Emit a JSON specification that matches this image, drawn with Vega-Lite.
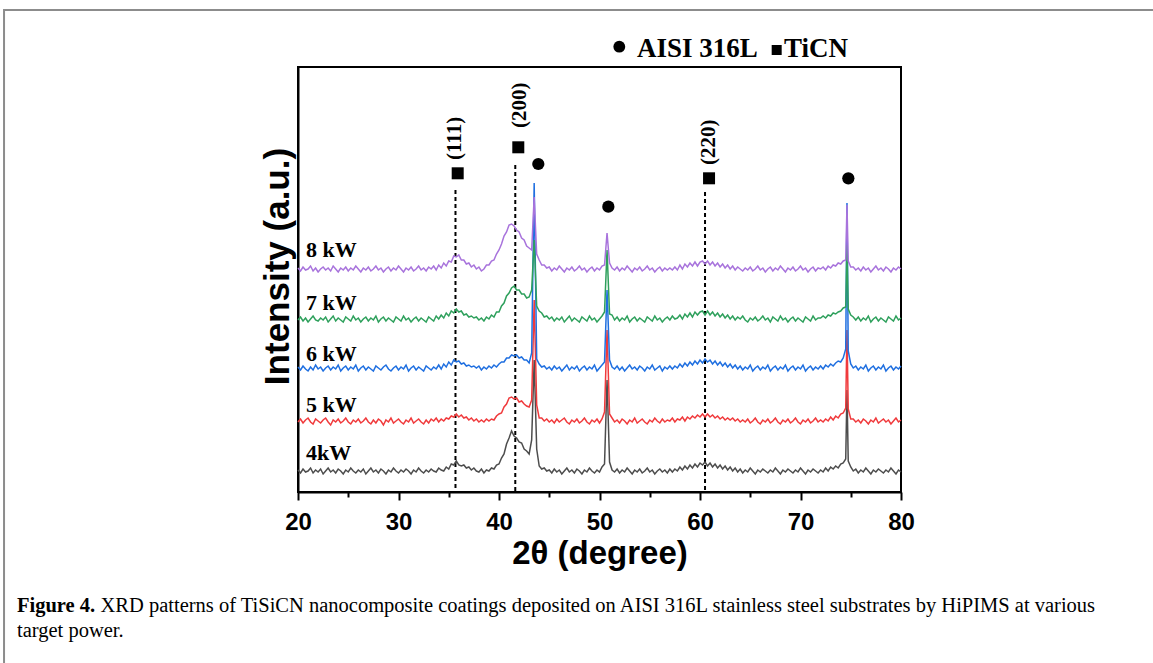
{
"$schema":"https://vega.github.io/schema/vega-lite/v6.json",
"width":603,"height":425,
"autosize":{"type":"none"},
"padding":{"left":298,"top":67,"right":252,"bottom":171},
"background":"white",
"config":{"view":{"stroke":"black","strokeWidth":2},"axis":{"domainColor":"black","domainWidth":2,"grid":false}},
"encoding":{
 "x":{"field":"x","type":"quantitative","scale":{"domain":[20,80],"nice":false,"zero":false},
  "axis":{"values":[20,25,30,35,40,45,50,55,60,65,70,75,80],"labelExpr":"datum.value % 10 === 0 ? datum.label : ''",
   "tickSize":{"condition":{"test":"datum.value % 10 === 0","value":8},"value":5},"tickWidth":2,"tickColor":"black",
   "labelFont":"Liberation Sans","labelFontSize":24,"labelFontWeight":"bold","labelColor":"black","labelPadding":10,"labelOverlap":false,"labelFlush":false,
   "title":"2θ (degree)","titleFont":"Liberation Sans","titleFontSize":33,"titleFontWeight":"bold","titleColor":"black","titlePadding":3}},
 "y":{"field":"y","type":"quantitative","scale":{"domain":[0,425],"nice":false,"zero":false},
  "axis":{"title":"Intensity (a.u.)","labels":false,"ticks":false,"titleFont":"Liberation Sans","titleFontSize":35,"titleFontWeight":"bold","titleColor":"black","titlePadding":3,"titleY":199}}
},
"layer":[
{"data":{"values":[{"x":-9.25,"x2":115,"y":482,"y2":-300}]},
 "mark":{"type":"rect","fill":null,"stroke":"#8c8c8c","strokeWidth":2,"clip":false},
 "encoding":{"x2":{"field":"x2"},"y2":{"field":"y2"}}},
{"data":{"values":[{"x":35.67,"y":302},{"x":41.62,"y":327},{"x":60.5,"y":300}]},
 "mark":{"type":"rule","color":"black","strokeWidth":2,"strokeDash":[4,3]},
 "encoding":{"y2":{"datum":0}}},
{"data":{"values":[
{"x":20,"s4":22,"s5":70,"s6":125,"s7":172,"s8":224},
{"x":20.25,"s4":19,"s5":73,"s6":122,"s7":175,"s8":221},
{"x":20.5,"s4":23,"s5":69,"s6":126,"s7":171,"s8":225},
{"x":20.75,"s4":20,"s5":72,"s6":123,"s7":174,"s8":222},
{"x":21,"s4":21,"s5":74,"s6":121,"s7":170,"s8":223},
{"x":21.25,"s4":24,"s5":70,"s6":125,"s7":173,"s8":226},
{"x":21.5,"s4":19,"s5":68,"s6":122,"s7":176,"s8":221},
{"x":21.75,"s4":22,"s5":73,"s6":127,"s7":172,"s8":224},
{"x":22,"s4":20,"s5":71,"s6":123,"s7":171,"s8":220},
{"x":22.25,"s4":23,"s5":69,"s6":125,"s7":174,"s8":223},
{"x":22.5,"s4":18,"s5":72,"s6":121,"s7":172,"s8":225},
{"x":22.75,"s4":21,"s5":74,"s6":124,"s7":175,"s8":222},
{"x":23,"s4":24,"s5":70,"s6":126,"s7":170,"s8":224},
{"x":23.25,"s4":20,"s5":67,"s6":122,"s7":173,"s8":221},
{"x":23.5,"s4":22,"s5":72,"s6":125,"s7":176,"s8":226},
{"x":23.75,"s4":19,"s5":70,"s6":123,"s7":171,"s8":223},
{"x":24,"s4":23,"s5":73,"s6":127,"s7":174,"s8":220},
{"x":24.25,"s4":21,"s5":69,"s6":121,"s7":172,"s8":224},
{"x":24.5,"s4":18,"s5":71,"s6":124,"s7":170,"s8":222},
{"x":24.75,"s4":22,"s5":74,"s6":126,"s7":175,"s8":225},
{"x":25,"s4":20,"s5":70,"s6":122,"s7":173,"s8":221},
{"x":25.25,"s4":24,"s5":68,"s6":125,"s7":171,"s8":224},
{"x":25.5,"s4":21,"s5":72,"s6":123,"s7":176,"s8":222},
{"x":25.75,"s4":19,"s5":70,"s6":127,"s7":172,"s8":226},
{"x":26,"s4":22,"s5":73,"s6":121,"s7":174,"s8":223},
{"x":26.25,"s4":20,"s5":69,"s6":124,"s7":170,"s8":220},
{"x":26.5,"s4":23,"s5":71,"s6":126,"s7":173,"s8":224},
{"x":26.75,"s4":18,"s5":74,"s6":122,"s7":175,"s8":222},
{"x":27,"s4":21,"s5":70,"s6":125,"s7":171,"s8":225},
{"x":27.25,"s4":24,"s5":68,"s6":123,"s7":174,"s8":221},
{"x":27.5,"s4":20,"s5":72,"s6":121,"s7":172,"s8":223},
{"x":27.75,"s4":22,"s5":69,"s6":126,"s7":176,"s8":226},
{"x":28,"s4":19,"s5":73,"s6":124,"s7":170,"s8":222},
{"x":28.25,"s4":23,"s5":71,"s6":122,"s7":173,"s8":224},
{"x":28.5,"s4":21,"s5":67,"s6":125,"s7":175,"s8":220},
{"x":28.75,"s4":18,"s5":72,"s6":127,"s7":171,"s8":223},
{"x":29,"s4":22,"s5":70,"s6":123,"s7":174,"s8":225},
{"x":29.25,"s4":20,"s5":74,"s6":121,"s7":172,"s8":221},
{"x":29.5,"s4":24,"s5":69,"s6":124,"s7":170,"s8":224},
{"x":29.75,"s4":21,"s5":71,"s6":126,"s7":175,"s8":222},
{"x":30,"s4":19,"s5":73,"s6":122,"s7":173,"s8":226},
{"x":30.25,"s4":22,"s5":70,"s6":125,"s7":171,"s8":223},
{"x":30.5,"s4":20,"s5":68,"s6":123,"s7":176,"s8":220},
{"x":30.75,"s4":23,"s5":72,"s6":127,"s7":172,"s8":224},
{"x":31,"s4":21,"s5":70,"s6":121,"s7":174,"s8":222},
{"x":31.25,"s4":18,"s5":74,"s6":124,"s7":170,"s8":225},
{"x":31.5,"s4":22,"s5":69,"s6":126,"s7":173,"s8":221},
{"x":31.75,"s4":20,"s5":71,"s6":122,"s7":175,"s8":223},
{"x":32,"s4":24,"s5":73,"s6":125,"s7":171,"s8":226},
{"x":32.25,"s4":21,"s5":70,"s6":123,"s7":174,"s8":222},
{"x":32.5,"s4":19,"s5":68,"s6":121,"s7":172,"s8":224},
{"x":32.75,"s4":22,"s5":72,"s6":126,"s7":170,"s8":221},
{"x":33,"s4":20,"s5":69,"s6":124,"s7":175,"s8":225},
{"x":33.25,"s4":23,"s5":73,"s6":122,"s7":173,"s8":223},
{"x":33.5,"s4":21,"s5":71,"s6":125,"s7":171,"s8":226},
{"x":33.75,"s4":20,"s5":74,"s6":123,"s7":176,"s8":222},
{"x":34,"s4":24,"s5":70,"s6":127,"s7":173,"s8":227},
{"x":34.25,"s4":22,"s5":73,"s6":123,"s7":177,"s8":224},
{"x":34.5,"s4":21,"s5":71,"s6":128,"s7":174,"s8":229},
{"x":34.75,"s4":25,"s5":74,"s6":125,"s7":179,"s8":226},
{"x":35,"s4":23,"s5":73,"s6":130,"s7":176,"s8":231},
{"x":35.25,"s4":28,"s5":76,"s6":127,"s7":181,"s8":230},
{"x":35.5,"s4":27,"s5":75,"s6":132,"s7":179,"s8":236},
{"x":35.75,"s4":31,"s5":78,"s6":130,"s7":183,"s8":235},
{"x":36,"s4":27,"s5":75,"s6":131,"s7":180,"s8":237},
{"x":36.25,"s4":26,"s5":77,"s6":128,"s7":181,"s8":232},
{"x":36.5,"s4":27,"s5":74,"s6":129,"s7":177,"s8":232},
{"x":36.75,"s4":24,"s5":75,"s6":126,"s7":178,"s8":228},
{"x":37,"s4":25,"s5":72,"s6":127,"s7":175,"s8":229},
{"x":37.25,"s4":22,"s5":74,"s6":125,"s7":176,"s8":225},
{"x":37.5,"s4":24,"s5":71,"s6":126,"s7":174,"s8":227},
{"x":37.75,"s4":21,"s5":73,"s6":124,"s7":175,"s8":223},
{"x":38,"s4":20,"s5":70,"s6":126,"s7":172,"s8":225},
{"x":38.25,"s4":23,"s5":72,"s6":122,"s7":174,"s8":221},
{"x":38.5,"s4":19,"s5":70,"s6":125,"s7":171,"s8":223},
{"x":38.75,"s4":22,"s5":73,"s6":123,"s7":175,"s8":227},
{"x":39,"s4":21,"s5":71,"s6":126,"s7":173,"s8":227},
{"x":39.25,"s4":24,"s5":73,"s6":124,"s7":177,"s8":231},
{"x":39.5,"s4":23,"s5":72,"s6":127,"s7":175,"s8":232},
{"x":39.75,"s4":27,"s5":76,"s6":125,"s7":180,"s8":238},
{"x":40,"s4":28,"s5":78,"s6":128,"s7":180,"s8":242},
{"x":40.25,"s4":34,"s5":79,"s6":130,"s7":186,"s8":248},
{"x":40.5,"s4":38,"s5":85,"s6":130,"s7":189,"s8":256},
{"x":40.75,"s4":48,"s5":88,"s6":134,"s7":196,"s8":260},
{"x":41,"s4":54,"s5":94,"s6":134,"s7":199,"s8":267},
{"x":41.25,"s4":61,"s5":95,"s6":137,"s7":204,"s8":268},
{"x":41.5,"s4":56,"s5":93,"s6":136,"s7":206,"s8":266},
{"x":41.75,"s4":54,"s5":94,"s6":137,"s7":202,"s8":262},
{"x":42,"s4":50,"s5":90,"s6":134,"s7":202,"s8":260},
{"x":42.25,"s4":49,"s5":91,"s6":135,"s7":198,"s8":254},
{"x":42.5,"s4":43,"s5":88,"s6":132,"s7":198,"s8":252},
{"x":42.75,"s4":41,"s5":86,"s6":132,"s7":194,"s8":246},
{"x":43,"s4":38,"s5":85,"s6":129,"s7":195,"s8":244},
{"x":43.25,"s4":52,"s5":92,"s6":139,"s7":202,"s8":242},
{"x":43.5,"s4":132,"s5":192,"s6":309,"s7":252,"s8":295},
{"x":43.75,"s4":43,"s5":87,"s6":133,"s7":186,"s8":238},
{"x":44,"s4":26,"s5":74,"s6":128,"s7":181,"s8":232},
{"x":44.25,"s4":23,"s5":74,"s6":125,"s7":179,"s8":227},
{"x":44.5,"s4":24,"s5":71,"s6":126,"s7":175,"s8":227},
{"x":44.75,"s4":21,"s5":73,"s6":123,"s7":176,"s8":224},
{"x":45,"s4":22,"s5":70,"s6":125,"s7":173,"s8":225},
{"x":45.25,"s4":19,"s5":72,"s6":122,"s7":175,"s8":221},
{"x":45.5,"s4":23,"s5":69,"s6":126,"s7":171,"s8":224},
{"x":45.75,"s4":20,"s5":73,"s6":123,"s7":174,"s8":222},
{"x":46,"s4":22,"s5":70,"s6":125,"s7":172,"s8":226},
{"x":46.25,"s4":18,"s5":72,"s6":121,"s7":175,"s8":223},
{"x":46.5,"s4":21,"s5":74,"s6":124,"s7":170,"s8":220},
{"x":46.75,"s4":24,"s5":70,"s6":127,"s7":173,"s8":224},
{"x":47,"s4":20,"s5":68,"s6":122,"s7":176,"s8":222},
{"x":47.25,"s4":22,"s5":72,"s6":125,"s7":171,"s8":225},
{"x":47.5,"s4":19,"s5":70,"s6":123,"s7":174,"s8":221},
{"x":47.75,"s4":23,"s5":73,"s6":126,"s7":172,"s8":223},
{"x":48,"s4":21,"s5":69,"s6":121,"s7":170,"s8":226},
{"x":48.25,"s4":18,"s5":71,"s6":124,"s7":175,"s8":222},
{"x":48.5,"s4":22,"s5":74,"s6":126,"s7":173,"s8":224},
{"x":48.75,"s4":20,"s5":70,"s6":122,"s7":171,"s8":220},
{"x":49,"s4":24,"s5":68,"s6":125,"s7":176,"s8":223},
{"x":49.25,"s4":21,"s5":72,"s6":123,"s7":172,"s8":225},
{"x":49.5,"s4":19,"s5":70,"s6":127,"s7":174,"s8":221},
{"x":49.75,"s4":22,"s5":73,"s6":121,"s7":170,"s8":224},
{"x":50,"s4":20,"s5":69,"s6":124,"s7":173,"s8":222},
{"x":50.25,"s4":25,"s5":73,"s6":127,"s7":176,"s8":226},
{"x":50.5,"s4":28,"s5":80,"s6":130,"s7":180,"s8":227},
{"x":50.75,"s4":112,"s5":162,"s6":202,"s7":242,"s8":259},
{"x":51,"s4":30,"s5":78,"s6":132,"s7":178,"s8":229},
{"x":51.25,"s4":22,"s5":74,"s6":125,"s7":177,"s8":224},
{"x":51.5,"s4":20,"s5":70,"s6":123,"s7":172,"s8":222},
{"x":51.75,"s4":23,"s5":72,"s6":126,"s7":175,"s8":225},
{"x":52,"s4":19,"s5":69,"s6":122,"s7":171,"s8":221},
{"x":52.25,"s4":22,"s5":73,"s6":125,"s7":174,"s8":224},
{"x":52.5,"s4":20,"s5":71,"s6":121,"s7":172,"s8":222},
{"x":52.75,"s4":24,"s5":68,"s6":124,"s7":176,"s8":226},
{"x":53,"s4":21,"s5":72,"s6":127,"s7":170,"s8":223},
{"x":53.25,"s4":18,"s5":70,"s6":123,"s7":173,"s8":220},
{"x":53.5,"s4":22,"s5":74,"s6":125,"s7":175,"s8":224},
{"x":53.75,"s4":20,"s5":69,"s6":122,"s7":171,"s8":222},
{"x":54,"s4":23,"s5":71,"s6":126,"s7":174,"s8":225},
{"x":54.25,"s4":19,"s5":73,"s6":124,"s7":172,"s8":221},
{"x":54.5,"s4":21,"s5":70,"s6":121,"s7":170,"s8":223},
{"x":54.75,"s4":24,"s5":68,"s6":125,"s7":175,"s8":226},
{"x":55,"s4":20,"s5":72,"s6":123,"s7":173,"s8":222},
{"x":55.25,"s4":22,"s5":70,"s6":127,"s7":171,"s8":224},
{"x":55.5,"s4":18,"s5":74,"s6":122,"s7":176,"s8":220},
{"x":55.75,"s4":21,"s5":71,"s6":124,"s7":172,"s8":223},
{"x":56,"s4":23,"s5":69,"s6":126,"s7":174,"s8":225},
{"x":56.25,"s4":20,"s5":73,"s6":121,"s7":170,"s8":221},
{"x":56.5,"s4":22,"s5":70,"s6":125,"s7":173,"s8":224},
{"x":56.75,"s4":19,"s5":72,"s6":123,"s7":175,"s8":222},
{"x":57,"s4":23,"s5":71,"s6":126,"s7":172,"s8":224},
{"x":57.25,"s4":20,"s5":74,"s6":123,"s7":176,"s8":222},
{"x":57.5,"s4":23,"s5":70,"s6":126,"s7":173,"s8":225},
{"x":57.75,"s4":21,"s5":73,"s6":124,"s7":174,"s8":222},
{"x":58,"s4":25,"s5":72,"s6":128,"s7":177,"s8":227},
{"x":58.25,"s4":22,"s5":75,"s6":125,"s7":173,"s8":223},
{"x":58.5,"s4":26,"s5":71,"s6":129,"s7":178,"s8":228},
{"x":58.75,"s4":23,"s5":75,"s6":126,"s7":175,"s8":225},
{"x":59,"s4":27,"s5":73,"s6":130,"s7":179,"s8":229},
{"x":59.25,"s4":24,"s5":76,"s6":127,"s7":175,"s8":226},
{"x":59.5,"s4":28,"s5":74,"s6":131,"s7":180,"s8":230},
{"x":59.75,"s4":25,"s5":77,"s6":128,"s7":177,"s8":226},
{"x":60,"s4":29,"s5":75,"s6":132,"s7":180,"s8":230},
{"x":60.25,"s4":27,"s5":78,"s6":129,"s7":181,"s8":231},
{"x":60.5,"s4":30,"s5":75,"s6":133,"s7":177,"s8":228},
{"x":60.75,"s4":26,"s5":78,"s6":130,"s7":181,"s8":231},
{"x":61,"s4":29,"s5":75,"s6":132,"s7":177,"s8":227},
{"x":61.25,"s4":25,"s5":77,"s6":128,"s7":180,"s8":230},
{"x":61.5,"s4":28,"s5":74,"s6":131,"s7":176,"s8":226},
{"x":61.75,"s4":24,"s5":76,"s6":127,"s7":179,"s8":229},
{"x":62,"s4":27,"s5":73,"s6":130,"s7":175,"s8":225},
{"x":62.25,"s4":23,"s5":75,"s6":126,"s7":178,"s8":228},
{"x":62.5,"s4":26,"s5":72,"s6":129,"s7":174,"s8":224},
{"x":62.75,"s4":22,"s5":74,"s6":125,"s7":177,"s8":227},
{"x":63,"s4":25,"s5":72,"s6":128,"s7":173,"s8":223},
{"x":63.25,"s4":21,"s5":74,"s6":124,"s7":176,"s8":226},
{"x":63.5,"s4":24,"s5":71,"s6":127,"s7":172,"s8":222},
{"x":63.75,"s4":20,"s5":73,"s6":123,"s7":175,"s8":225},
{"x":64,"s4":23,"s5":70,"s6":126,"s7":173,"s8":223},
{"x":64.25,"s4":19,"s5":72,"s6":122,"s7":176,"s8":221},
{"x":64.5,"s4":22,"s5":70,"s6":125,"s7":172,"s8":224},
{"x":64.75,"s4":20,"s5":73,"s6":123,"s7":170,"s8":222},
{"x":65,"s4":24,"s5":69,"s6":127,"s7":174,"s8":225},
{"x":65.25,"s4":21,"s5":71,"s6":121,"s7":172,"s8":221},
{"x":65.5,"s4":18,"s5":74,"s6":124,"s7":175,"s8":223},
{"x":65.75,"s4":22,"s5":70,"s6":126,"s7":171,"s8":226},
{"x":66,"s4":20,"s5":68,"s6":122,"s7":173,"s8":222},
{"x":66.25,"s4":23,"s5":72,"s6":125,"s7":176,"s8":224},
{"x":66.5,"s4":21,"s5":70,"s6":123,"s7":172,"s8":220},
{"x":66.75,"s4":19,"s5":73,"s6":127,"s7":174,"s8":223},
{"x":67,"s4":22,"s5":69,"s6":121,"s7":170,"s8":225},
{"x":67.25,"s4":20,"s5":71,"s6":124,"s7":175,"s8":221},
{"x":67.5,"s4":24,"s5":74,"s6":126,"s7":173,"s8":224},
{"x":67.75,"s4":21,"s5":70,"s6":122,"s7":171,"s8":222},
{"x":68,"s4":18,"s5":68,"s6":125,"s7":176,"s8":226},
{"x":68.25,"s4":22,"s5":72,"s6":123,"s7":172,"s8":223},
{"x":68.5,"s4":20,"s5":70,"s6":127,"s7":174,"s8":220},
{"x":68.75,"s4":23,"s5":73,"s6":121,"s7":170,"s8":224},
{"x":69,"s4":21,"s5":69,"s6":124,"s7":173,"s8":222},
{"x":69.25,"s4":19,"s5":71,"s6":126,"s7":175,"s8":225},
{"x":69.5,"s4":22,"s5":74,"s6":122,"s7":171,"s8":221},
{"x":69.75,"s4":20,"s5":70,"s6":125,"s7":174,"s8":223},
{"x":70,"s4":24,"s5":68,"s6":123,"s7":172,"s8":226},
{"x":70.25,"s4":21,"s5":72,"s6":127,"s7":170,"s8":222},
{"x":70.5,"s4":18,"s5":70,"s6":121,"s7":175,"s8":224},
{"x":70.75,"s4":22,"s5":73,"s6":124,"s7":173,"s8":220},
{"x":71,"s4":20,"s5":69,"s6":126,"s7":171,"s8":223},
{"x":71.25,"s4":23,"s5":71,"s6":122,"s7":176,"s8":225},
{"x":71.5,"s4":21,"s5":74,"s6":125,"s7":172,"s8":221},
{"x":71.75,"s4":19,"s5":70,"s6":123,"s7":174,"s8":224},
{"x":72,"s4":22,"s5":72,"s6":126,"s7":174,"s8":223},
{"x":72.25,"s4":20,"s5":70,"s6":123,"s7":176,"s8":225},
{"x":72.5,"s4":24,"s5":73,"s6":127,"s7":174,"s8":222},
{"x":72.75,"s4":21,"s5":71,"s6":125,"s7":177,"s8":226},
{"x":73,"s4":25,"s5":75,"s6":128,"s7":176,"s8":224},
{"x":73.25,"s4":23,"s5":72,"s6":126,"s7":179,"s8":227},
{"x":73.5,"s4":26,"s5":76,"s6":129,"s7":178,"s8":226},
{"x":73.75,"s4":24,"s5":74,"s6":131,"s7":180,"s8":229},
{"x":74,"s4":28,"s5":78,"s6":130,"s7":181,"s8":228},
{"x":74.25,"s4":29,"s5":79,"s6":134,"s7":184,"s8":231},
{"x":74.5,"s4":33,"s5":84,"s6":143,"s7":185,"s8":232},
{"x":74.625,"s4":102,"s5":162,"s6":289,"s7":247,"s8":287},
{"x":74.75,"s4":31,"s5":83,"s6":141,"s7":183,"s8":231},
{"x":75,"s4":25,"s5":73,"s6":128,"s7":177,"s8":225},
{"x":75.25,"s4":21,"s5":73,"s6":124,"s7":175,"s8":225},
{"x":75.5,"s4":23,"s5":70,"s6":126,"s7":172,"s8":222},
{"x":75.75,"s4":19,"s5":72,"s6":122,"s7":175,"s8":224},
{"x":76,"s4":22,"s5":69,"s6":125,"s7":171,"s8":221},
{"x":76.25,"s4":20,"s5":73,"s6":123,"s7":174,"s8":225},
{"x":76.5,"s4":24,"s5":71,"s6":127,"s7":172,"s8":222},
{"x":76.75,"s4":21,"s5":68,"s6":121,"s7":176,"s8":224},
{"x":77,"s4":18,"s5":72,"s6":124,"s7":170,"s8":220},
{"x":77.25,"s4":22,"s5":70,"s6":126,"s7":173,"s8":223},
{"x":77.5,"s4":20,"s5":74,"s6":122,"s7":175,"s8":226},
{"x":77.75,"s4":23,"s5":69,"s6":125,"s7":171,"s8":222},
{"x":78,"s4":21,"s5":71,"s6":123,"s7":174,"s8":224},
{"x":78.25,"s4":19,"s5":73,"s6":127,"s7":172,"s8":221},
{"x":78.5,"s4":22,"s5":70,"s6":121,"s7":170,"s8":225},
{"x":78.75,"s4":20,"s5":72,"s6":124,"s7":175,"s8":223},
{"x":79,"s4":24,"s5":68,"s6":126,"s7":173,"s8":220},
{"x":79.25,"s4":21,"s5":71,"s6":122,"s7":171,"s8":224},
{"x":79.5,"s4":18,"s5":74,"s6":125,"s7":176,"s8":222},
{"x":79.75,"s4":22,"s5":70,"s6":123,"s7":172,"s8":225},
{"x":80,"s4":20,"s5":72,"s6":126,"s7":174,"s8":223}
]},
 "transform":[{"fold":["s4","s5","s6","s7","s8"],"as":["series","y"]}],
 "mark":{"type":"line","strokeWidth":1.5},
 "encoding":{"color":{"field":"series","type":"nominal","scale":{"domain":["s4","s5","s6","s7","s8"],"range":["#4d4d4d","#f03a3c","#1f6fe0","#2ea05c","#a873dc"]},"legend":null}}},
{"data":{"values":[{"x":35.89,"y":318.7},{"x":41.92,"y":344.7},{"x":60.9,"y":313.7}]},
 "mark":{"type":"point","shape":"square","filled":true,"color":"black","size":144,"opacity":1}},
{"data":{"values":[{"x":43.91,"y":328},{"x":50.88,"y":285.3},{"x":74.76,"y":313.7}]},
 "mark":{"type":"point","shape":"circle","filled":true,"color":"black","size":150,"opacity":1}},
{"data":{"values":[{"x":51.97,"y":445.3}]},
 "mark":{"type":"point","shape":"circle","filled":true,"color":"black","size":140,"opacity":1,"clip":false}},
{"data":{"values":[{"x":67.63,"y":442}]},
 "mark":{"type":"point","shape":"square","filled":true,"color":"black","size":100,"opacity":1,"clip":false}},
{"data":{"values":[{"x":53.72,"y":435.3,"t":"AISI 316L"},{"x":68.36,"y":435.3,"t":"TiCN"}]},
 "mark":{"type":"text","align":"left","baseline":"alphabetic","font":"Liberation Serif","fontWeight":"bold","fontSize":27,"color":"black","clip":false},
 "encoding":{"text":{"field":"t"}}},
{"data":{"values":[{"x":20.8,"y":235,"t":"8 kW"},{"x":20.8,"y":182,"t":"7 kW"},{"x":20.8,"y":131,"t":"6 kW"},{"x":20.8,"y":80,"t":"5 kW"},{"x":20.8,"y":32,"t":"4kW"}]},
 "mark":{"type":"text","align":"left","baseline":"alphabetic","font":"Liberation Serif","fontWeight":"bold","fontSize":22,"color":"black"},
 "encoding":{"text":{"field":"t"}}},
{"data":{"values":[{"x":35.67,"y":332,"t":"(111)"},{"x":42.09,"y":364,"t":"(200)"},{"x":60.9,"y":327,"t":"(220)"}]},
 "mark":{"type":"text","align":"left","baseline":"middle","angle":270,"font":"Liberation Serif","fontWeight":"bold","fontSize":21,"color":"black"},
 "encoding":{"text":{"field":"t"}}},
{"data":{"values":[{"x":-7.96,"y":-120,"t":"Figure 4."}]},
 "mark":{"type":"text","align":"left","baseline":"alphabetic","font":"Liberation Serif","fontWeight":"bold","fontSize":20.5,"color":"black","clip":false},
 "encoding":{"text":{"field":"t"}}},
{"data":{"values":[{"x":0.35,"y":-120,"t":"XRD patterns of TiSiCN nanocomposite coatings deposited on AISI 316L stainless steel substrates by HiPIMS at various"},{"x":-7.96,"y":-145,"t":"target power."}]},
 "mark":{"type":"text","align":"left","baseline":"alphabetic","font":"Liberation Serif","fontSize":20.5,"color":"black","clip":false},
 "encoding":{"text":{"field":"t"}}}
]
}
